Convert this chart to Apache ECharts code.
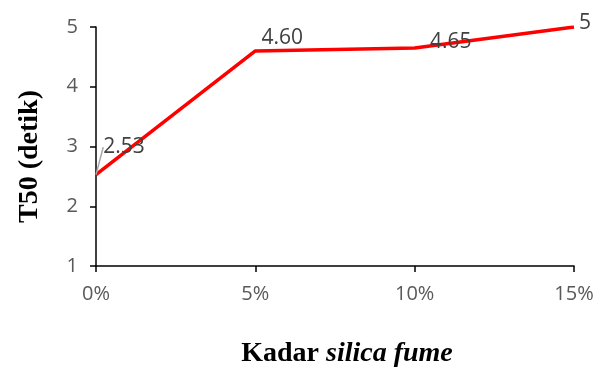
<!DOCTYPE html>
<html>
<head>
<meta charset="utf-8">
<script src="https://cdn.jsdelivr.net/npm/echarts@6/dist/echarts.min.js"></script>
<style>
  html, body { margin: 0; padding: 0; background: #fff; }
  #chart { width: 601px; height: 373px; }
</style>
</head>
<body>
<div id="chart"></div>
<script>
// Silica fume content (x) and T50 flow time in seconds (y)
const categories = ['0%', '5%', '10%', '15%'];
const t50Values = [2.53, 4.60, 4.65, 5];
const valueLabels = ['2.53', '4.60', '4.65', '5'];
const yTicks = [1, 2, 3, 4, 5];

// Per-point label nudges relative to the default "top" placement
const labelShift = [[28, -12], [27, 3], [36, 10], [11, 12]];

const chart = echarts.init(document.getElementById('chart'), null, { renderer: 'canvas' });

const seriesData = t50Values.map((v, i) => {
  const item = { value: v, label: { formatter: valueLabels[i] } };
  if (i === 0) {
    item.labelLine = { show: true, lineStyle: { color: '#A6A6A6', width: 1.5 } };
  }
  return item;
});

chart.setOption({
  animation: false,
  backgroundColor: '#ffffff',
  grid: { left: 96, right: 27, top: 27, bottom: 106, containLabel: false },
  xAxis: {
    type: 'category',
    data: categories,
    boundaryGap: false,
    axisLine: { show: true, lineStyle: { color: '#000', width: 1.5 } },
    axisTick: { show: true, alignWithLabel: true, length: 6, lineStyle: { color: '#000', width: 1.5 } },
    axisLabel: { margin: 18, color: '#595959', fontSize: 20, fontFamily: 'Open Sans' },
    splitLine: { show: false },
    name: '{b|Kadar }{bi|silica fume}',
    nameLocation: 'middle',
    nameGap: 74,
    nameTextStyle: {
      padding: [0, 0, 0, 24],
      rich: {
        b: { fontFamily: 'Liberation Serif', fontWeight: 'bold', fontSize: 28, color: '#000' },
        bi: { fontFamily: 'Liberation Serif', fontWeight: 'bold', fontStyle: 'italic', fontSize: 28, color: '#000' }
      }
    }
  },
  yAxis: {
    type: 'value',
    min: yTicks[0],
    max: yTicks[yTicks.length - 1],
    interval: 1,
    axisLine: { show: true, lineStyle: { color: '#000', width: 1.5 } },
    axisTick: { show: true, length: 6, lineStyle: { color: '#000', width: 1.5 } },
    axisLabel: { margin: 18, color: '#595959', fontSize: 20, fontFamily: 'Open Sans' },
    splitLine: { show: false },
    name: 'T50 (detik)',
    nameLocation: 'middle',
    nameGap: 52,
    nameTextStyle: {
      fontFamily: 'Liberation Serif', fontWeight: 'bold', fontSize: 28, color: '#000',
      padding: [0, 20, 0, 0]
    }
  },
  series: [{
    type: 'line',
    data: seriesData,
    showSymbol: true,
    symbol: 'circle',
    symbolSize: 0,
    lineStyle: { color: '#FF0000', width: 3.5 },
    itemStyle: { color: '#FF0000' },
    label: {
      show: true,
      position: 'top',
      color: '#404040',
      fontSize: 21,
      fontFamily: 'Open Sans'
    },
    labelLayout: function (params) {
      const s = labelShift[params.dataIndex] || [0, 0];
      return { dx: s[0], dy: s[1] };
    }
  }]
});
</script>
</body>
</html>
